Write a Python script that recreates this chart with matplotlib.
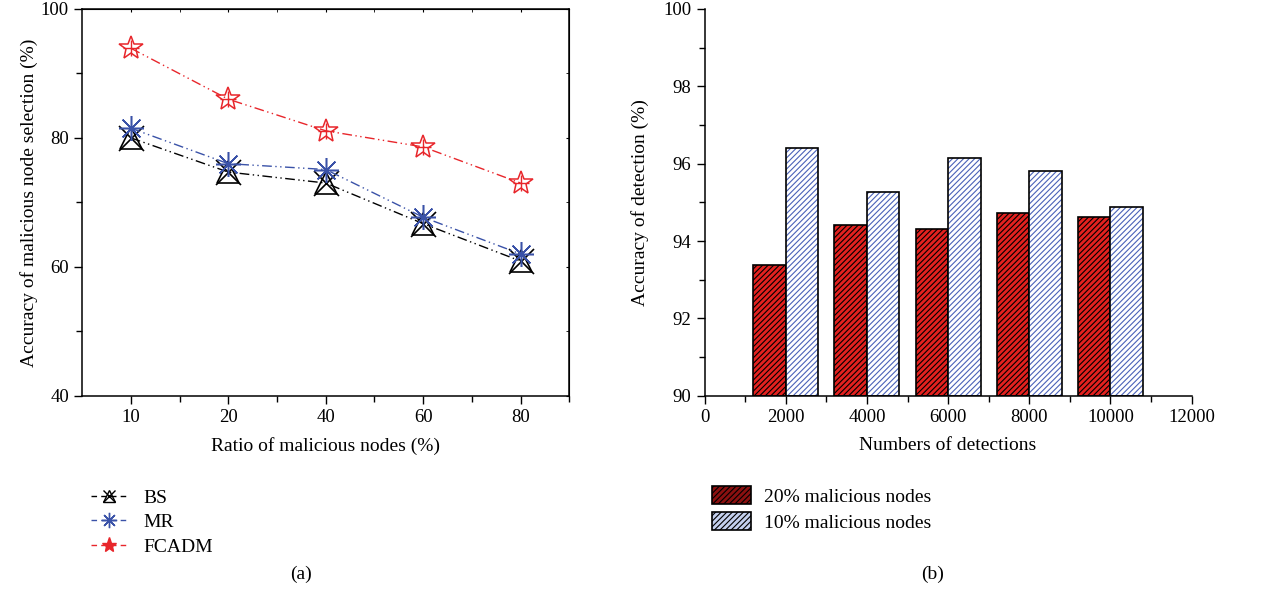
import matplotlib.pyplot as plt
from matplotlib.lines import Line2D
from matplotlib.patches import Patch
from matplotlib.ticker import MultipleLocator
import numpy as np

plt.rcParams['font.family'] = ['Liberation Serif', 'DejaVu Serif']
plt.rcParams['font.size'] = 13
plt.rcParams['hatch.linewidth'] = 0.8

# (a) 恶意节点选择准确率
ratios = ['10', '20', '40', '60', '80']
bs = [80.0, 74.7, 73.0, 66.7, 60.9]
mr = [81.5, 76.0, 75.1, 67.7, 62.0]
fcadm = [93.9, 86.0, 81.1, 78.6, 73.0]

# (b) 检测准确率
detections = [2000, 4000, 6000, 8000, 10000]
acc_20 = [93.37, 94.42, 94.31, 94.73, 94.62]
acc_10 = [96.40, 95.26, 96.16, 95.82, 94.87]

fig = plt.figure(figsize=(12.65, 5.97), dpi=100)
ax1 = fig.add_axes([0.065, 0.337, 0.385, 0.648])
ax2 = fig.add_axes([0.557, 0.337, 0.385, 0.648])

dashdot2 = (0, (7, 2.5, 1, 2.5, 1, 2.5))
x = np.arange(1, len(ratios) + 1)

ax1.plot(x, bs, color='black', lw=1, ls=dashdot2, marker='^', ms=16,
         mfc='none', mec='black', mew=1.2)
ax1.plot(x, bs, ls='none', marker='x', ms=18, mec='black', mew=1.2)
ax1.plot(x, mr, color='#3a52a8', lw=1, ls=dashdot2, marker=(8, 2, 0),
         ms=18, mec='#3a52a8', mew=1.1)
ax1.plot(x, fcadm, color='#e8262b', lw=1, ls=dashdot2, marker='*', ms=18,
         mfc='none', mec='#e8262b', mew=1.1)
ax1.plot(x, fcadm, ls='none', marker='+', ms=12, mec='#e8262b', mew=1.0)

ax1.set_xlim(0.5, 5.5)
ax1.set_ylim(40, 100)
ax1.set_xticks(x)
ax1.set_xticklabels(ratios)
ax1.set_xticks(x + 0.5, minor=True)
ax1.yaxis.set_major_locator(MultipleLocator(20))
ax1.yaxis.set_minor_locator(MultipleLocator(10))
ax1.tick_params(which='both', direction='out', length=6, width=1, labelsize=13.5)
ax1.tick_params(which='minor', length=4)
# 上、右边框的短刻度
ax1t = ax1.secondary_xaxis('top')
ax1t.set_xticks(x)
ax1t.set_xticks(x + 0.5, minor=True)
ax1t.tick_params(which='both', direction='in', length=2, labeltop=False)
ax1r = ax1.secondary_yaxis('right')
ax1r.yaxis.set_major_locator(MultipleLocator(20))
ax1r.yaxis.set_minor_locator(MultipleLocator(10))
ax1r.tick_params(which='both', direction='in', length=2, labelright=False)
for s in ax1.spines.values():
    s.set_linewidth(1.1)
ax1.set_xlabel('Ratio of malicious nodes (%)', fontsize=14, labelpad=8)
ax1.set_ylabel('Accuracy of malicious node selection (%)', fontsize=14, labelpad=2)

# 小号图例标记
leg_ls = (0, (4, 3))
h_bs = (Line2D([], [], color='black', lw=1, ls=leg_ls, marker='^', ms=9,
               mfc='none', mec='black'),
        Line2D([], [], ls='none', marker='x', ms=9, mec='black'))
h_mr = Line2D([], [], color='#3a52a8', lw=1, ls=leg_ls, marker=(8, 2, 0), ms=11,
              mec='#3a52a8')
h_fc = Line2D([], [], color='#e8262b', lw=1, ls=leg_ls, marker='*', ms=11,
              mfc='#e8262b', mec='#e8262b')
fig.legend([h_bs, h_mr, h_fc], ['BS', 'MR', 'FCADM'], loc='upper left',
           bbox_to_anchor=(0.058, 0.21), frameon=False, fontsize=14,
           handlelength=1.9, labelspacing=0.35, handletextpad=0.8)

# 柱状图
w = 800
ax2.bar(np.array(detections) - w / 2, np.array(acc_20) - 90, w, bottom=90,
        color='#e3211f', edgecolor='black', hatch='//////', lw=1.2)
ax2.bar(np.array(detections) + w / 2, np.array(acc_10) - 90, w, bottom=90,
        color='white', edgecolor='#4a62b8', hatch='//////', lw=0)
ax2.bar(np.array(detections) + w / 2, np.array(acc_10) - 90, w, bottom=90,
        color='none', edgecolor='black', lw=1.2)

ax2.set_xlim(0, 12000)
ax2.set_ylim(90, 100)
ax2.xaxis.set_major_locator(MultipleLocator(2000))
ax2.xaxis.set_minor_locator(MultipleLocator(1000))
ax2.yaxis.set_major_locator(MultipleLocator(2))
ax2.yaxis.set_minor_locator(MultipleLocator(1))
ax2.tick_params(which='both', direction='out', length=6, width=1, labelsize=13.5)
ax2.tick_params(which='minor', length=4)
ax2.spines['top'].set_visible(False)
ax2.spines['right'].set_visible(False)
for s in ('left', 'bottom'):
    ax2.spines[s].set_linewidth(1.1)
ax2.set_xlabel('Numbers of detections', fontsize=14, labelpad=8)
ax2.set_ylabel('Accuracy of detection (%)', fontsize=14, labelpad=10)

h20 = Patch(facecolor='#8b1010', edgecolor='black', hatch='//////', lw=1.2)
h10 = Patch(facecolor='#c4d0ee', edgecolor='black', hatch='//////', lw=1.2)
fig.legend([h20, h10], ['20% malicious nodes', '10% malicious nodes'],
           loc='upper left', bbox_to_anchor=(0.549, 0.215), frameon=False,
           fontsize=14, handlelength=2.0, handleheight=1.0, labelspacing=0.35,
           handletextpad=0.7)

fig.text(0.238, 0.03, '(a)', ha='center', fontsize=14)
fig.text(0.737, 0.03, '(b)', ha='center', fontsize=14)

fig.savefig('out.png', dpi=100)
